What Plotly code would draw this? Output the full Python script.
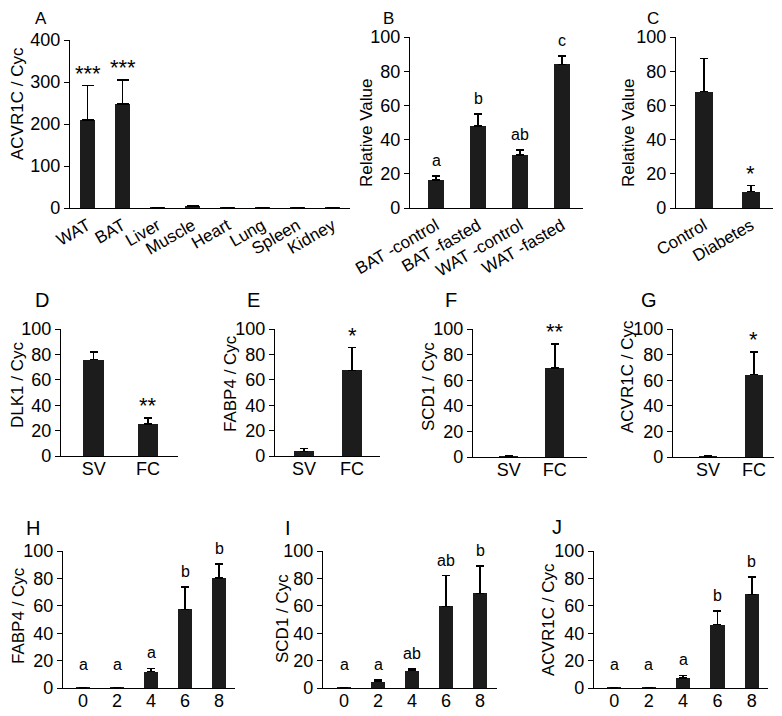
import plotly.graph_objects as go

# page body has an 8px margin: the figure sits at (8, 8) in the window
OFF = 8
W, H = 782 - OFF, 716 - OFF

# ---------------- data ----------------
A_cats = ["WAT", "BAT", "Liver", "Muscle", "Heart", "Lung", "Spleen", "Kidney"]
A_vals = [210, 248, 0.3, 3, 0.2, 1, 0.2, 0.2]
A_err = [81, 57, 0.2, 1.5, 0.1, 0.5, 0.1, 0.1]
A_sig = ["***", "***", "", "", "", "", "", ""]

B_cats = ["BAT -control", "BAT -fasted", "WAT -control", "WAT -fasted"]
B_vals = [16.3, 48, 31, 84]
B_err = [2.5, 7, 3, 5]
B_sig = ["a", "b", "ab", "c"]

C_cats = ["Control", "Diabetes"]
C_vals = [68, 9.6]
C_err = [19.5, 3.5]
C_sig = ["", "*"]

SVFC = ["SV", "FC"]
D_vals = [75.8, 25.3]
D_err = [6.2, 4.7]
D_sig = ["", "**"]
E_vals = [3.7, 67.4]
E_err = [2.1, 18]
E_sig = ["", "*"]
F_vals = [0.5, 69.6]
F_err = [0.2, 18.6]
F_sig = ["", "**"]
G_vals = [0.7, 64.4]
G_err = [0.3, 17.6]
G_sig = ["", "*"]

days = ["0", "2", "4", "6", "8"]
H_vals = [0.1, 0.1, 11.9, 57.4, 80.4]
H_err = [0.1, 0.1, 2.4, 16.2, 10.2]
H_sig = ["a", "a", "a", "b", "b"]
I_vals = [0.3, 4.6, 12.6, 59.6, 69]
I_err = [0.2, 1.2, 1.2, 22.4, 20]
I_sig = ["a", "a", "ab", "ab", "b"]
J_vals = [0.1, 0.1, 7.3, 46.2, 68.3]
J_err = [0.1, 0.1, 1.9, 10, 12.7]
J_sig = ["a", "a", "a", "b", "b"]

# ---------------- layout spec (window pixels) ----------------
# lp: panel letter centre (None for y = top-anchored at the figure's top edge)
panels = [
    dict(L="A", cats=A_cats, vals=A_vals, err=A_err, sig=A_sig, yt="ACVR1C / Cyc",
         xd=(70, 350), yd=(40, 208), xr=(-0.5, 7.5), ymax=400, dt=100, bw=0.43, ta=-30,
         lp=(41, None), tp=(18, 104), cap=6),
    dict(L="B", cats=B_cats, vals=B_vals, err=B_err, sig=B_sig, yt="Relative Value",
         xd=(410, 583), yd=(37, 208), xr=(-0.62, 3.5), ymax=100, dt=20, bw=0.4, ta=-30,
         lp=(388, None), tp=(366, 133), cap=4),
    dict(L="C", cats=C_cats, vals=C_vals, err=C_err, sig=C_sig, yt="Relative Value",
         xd=(676, 773), yd=(37, 208), xr=(-0.6, 1.47), ymax=100, dt=20, bw=0.38, ta=-30,
         lp=(653, None), tp=(628, 133), cap=4),
    dict(L="D", cats=SVFC, vals=D_vals, err=D_err, sig=D_sig, yt="DLK1 / Cyc",
         xd=(61, 178), yd=(329, 456), xr=(-0.6, 1.55), ymax=100, dt=20, bw=0.38, ta=0,
         lp=(42, 300), tp=(18, 385), cap=4),
    dict(L="E", cats=SVFC, vals=E_vals, err=E_err, sig=E_sig, yt="FABP4 / Cyc",
         xd=(275, 380), yd=(329, 456), xr=(-0.6, 1.58), ymax=100, dt=20, bw=0.4, ta=0,
         lp=(253, 300), tp=(230, 384), cap=4),
    dict(L="F", cats=SVFC, vals=F_vals, err=F_err, sig=F_sig, yt="SCD1 / Cyc",
         xd=(473, 587), yd=(329, 457), xr=(-0.78, 1.7), ymax=100, dt=20, bw=0.41, ta=0,
         lp=(451, 300), tp=(428, 387), cap=4),
    dict(L="G", cats=SVFC, vals=G_vals, err=G_err, sig=G_sig, yt="ACVR1C / Cyc",
         xd=(673, 777), yd=(329, 457), xr=(-0.76, 1.5), ymax=100, dt=20, bw=0.41, ta=0,
         lp=(649, 300), tp=(627, 377), cap=4),
    dict(L="H", cats=days, vals=H_vals, err=H_err, sig=H_sig, yt="FABP4 / Cyc",
         xd=(63, 235), yd=(551, 688), xr=(-0.59, 4.47), ymax=100, dt=20, bw=0.41, ta=0,
         lp=(33, 528), tp=(18, 616), cap=4),
    dict(L="I", cats=days, vals=I_vals, err=I_err, sig=I_sig, yt="SCD1 / Cyc",
         xd=(323, 497), yd=(551, 688), xr=(-0.62, 4.5), ymax=100, dt=20, bw=0.41, ta=0,
         lp=(288, 528), tp=(282, 619), cap=4),
    dict(L="J", cats=days, vals=J_vals, err=J_err, sig=J_sig, yt="ACVR1C / Cyc",
         xd=(594, 768), yd=(551, 688), xr=(-0.59, 4.47), ymax=100, dt=20, bw=0.41, ta=0,
         lp=(557, 527), tp=(548, 620), cap=4),
]


def px(x):
    return (x - OFF) / W


def py(y):
    return 1 - (y - OFF) / H


FONT = "Liberation Sans"
BAR = "#1c1c1c"

fig = go.Figure()
layout = dict(width=W, height=H, margin=dict(l=0, r=0, t=0, b=0, autoexpand=False),
              template="none",
              paper_bgcolor="white", plot_bgcolor="white", showlegend=False,
              hovermode=False,
              font=dict(family=FONT, color="black"), bargap=0)
annotations = []

for i, p in enumerate(panels):
    n = "" if i == 0 else str(i + 1)
    xa, ya = "x" + n, "y" + n
    fig.add_trace(go.Bar(
        x=p["cats"], y=p["vals"], xaxis=xa, yaxis=ya, width=p["bw"],
        marker=dict(color=BAR, line=dict(width=0)),
        error_y=dict(type="data", array=p["err"], symmetric=False,
                     arrayminus=[0] * len(p["err"]), color="black",
                     thickness=1.4, width=p["cap"]),
        hoverinfo="skip"))
    x0, x1 = p["xd"]
    ytop, ybot = p["yd"]
    layout["xaxis" + n] = dict(
        domain=[px(x0), px(x1)], anchor=ya, range=list(p["xr"]), type="category",
        automargin=False,
        showline=True, linecolor="black", linewidth=1.3, ticks="", showgrid=False,
        zeroline=False, tickangle=p["ta"], tickfont=dict(size=17 if p["ta"] else 18),
        ticklabelstandoff=0 if p["ta"] else -4,
        fixedrange=True)
    layout["yaxis" + n] = dict(
        domain=[py(ybot), py(ytop)], anchor=xa, range=[0, p["ymax"]],
        automargin=False,
        dtick=p["dt"], showline=True, linecolor="black", linewidth=1.3,
        ticks="outside", ticklen=5, tickwidth=1.3, tickcolor="black",
        showgrid=False, zeroline=False, tickfont=dict(size=18), fixedrange=True)
    # panel letter
    lx, ly = p["lp"]
    if ly is None:
        annotations.append(dict(text=p["L"], x=px(lx), y=1, xref="paper", yref="paper",
                                showarrow=False, xanchor="center", yanchor="top",
                                borderpad=0,
                                font=dict(size=17, family=FONT, color="black")))
    else:
        annotations.append(dict(text=p["L"], x=px(lx), y=py(ly), xref="paper",
                                yref="paper", showarrow=False, xanchor="center",
                                yanchor="middle",
                                font=dict(size=20, family=FONT, color="black")))
    # y title
    annotations.append(dict(text=p["yt"], x=px(p["tp"][0]), y=py(p["tp"][1]),
                            xref="paper", yref="paper", showarrow=False,
                            xanchor="center", yanchor="middle", textangle=-90,
                            font=dict(size=17, family=FONT, color="black")))
    # significance labels (x given as category index)
    for k, (v, e, s) in enumerate(zip(p["vals"], p["err"], p["sig"])):
        if not s:
            continue
        top = v + e
        if "*" in s:
            annotations.append(dict(text=s, x=k, y=top, xref=xa, yref=ya,
                                    showarrow=False, yanchor="bottom", yshift=-2,
                                    font=dict(size=22, family=FONT, color="black")))
        else:
            base = max(top, p["ymax"] * 0.06)
            annotations.append(dict(text=s, x=k, y=base, xref=xa, yref=ya,
                                    showarrow=False, yanchor="bottom", yshift=5,
                                    font=dict(size=16, family=FONT, color="black")))

layout["annotations"] = annotations
fig.update_layout(**layout)
fig.write_html("out.html")
